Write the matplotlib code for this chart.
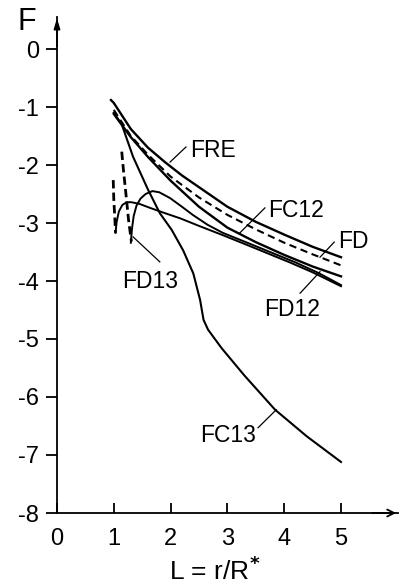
import matplotlib
matplotlib.use("Agg")
import matplotlib.pyplot as plt

plt.rcParams['font.family'] = ['Liberation Sans', 'DejaVu Sans']

# ---- data ----
x_fre = [0.95, 1.0, 1.3, 1.6, 1.9, 2.2, 2.6, 3.0, 3.5, 4.0, 4.5, 5.0]
y_fre = [-0.88, -0.93, -1.38, -1.70, -1.95, -2.18, -2.45, -2.72, -2.98, -3.20, -3.41, -3.59]

x_fd = [1.0, 1.3, 1.6, 2.0, 2.5, 3.0, 3.5, 4.0, 4.5, 5.0]
y_fd = [-1.05, -1.50, -1.82, -2.20, -2.56, -2.86, -3.11, -3.34, -3.54, -3.73]

x_fc12 = [1.0, 1.3, 1.6, 2.0, 2.5, 3.0, 3.5, 4.0, 4.5, 5.0]
y_fc12 = [-1.12, -1.52, -1.86, -2.27, -2.72, -3.08, -3.33, -3.55, -3.75, -3.92]

x_fc13 = [1.0, 1.14, 1.34, 1.6, 1.81, 2.02, 2.22, 2.40, 2.52, 2.58, 2.66, 2.90, 3.3, 3.84, 4.4, 5.0]
y_fc13 = [-1.10, -1.30, -1.86, -2.42, -2.83, -3.12, -3.47, -3.87, -4.33, -4.67, -4.84, -5.16, -5.63, -6.22, -6.68, -7.12]

# FD12 branch (solid part and dashed unstable part)
x_fd12 = [1.03, 1.05, 1.09, 1.15, 1.22, 1.3, 1.45, 1.64, 1.9, 2.17, 2.5, 2.92, 3.3, 3.7, 4.1, 4.5, 5.0]
y_fd12 = [-3.17, -2.98, -2.80, -2.69, -2.645, -2.64, -2.67, -2.74, -2.83, -2.92, -3.05, -3.21, -3.36, -3.52, -3.68, -3.85, -4.09]
x_fd12_d = [0.99, 1.0, 1.02, 1.03]
y_fd12_d = [-2.26, -2.60, -2.95, -3.17]

# FD13 branch (solid part and dashed unstable part)
x_fd13 = [1.3, 1.32, 1.35, 1.4, 1.47, 1.56, 1.68, 1.8, 1.99, 2.2, 2.39, 2.65, 2.92, 3.4, 3.8, 4.2, 4.6, 5.0]
y_fd13 = [-3.34, -3.10, -2.88, -2.70, -2.58, -2.50, -2.45, -2.47, -2.57, -2.72, -2.86, -3.03, -3.17, -3.36, -3.52, -3.68, -3.86, -4.07]
x_fd13_d = [1.14, 1.17, 1.20, 1.23, 1.26, 1.31]
y_fd13_d = [-1.77, -2.09, -2.37, -2.66, -2.95, -3.32]

y_ticks = [0, -1, -2, -3, -4, -5, -6, -7, -8]
y_tick_labels = ['0', '-1', '-2', '-3', '-4', '-5', '-6', '-7', '-8']
x_ticks = [0, 1, 2, 3, 4, 5]
x_tick_labels = ['0', '1', '2', '3', '4', '5']

# label text, text anchor (baseline), leader start (on curve), leader end
labels = [
    ('FRE',  (2.75, -1.86), (1.99, -1.95), (2.27, -1.69)),
    ('FC12', (4.21, -2.90), (3.22, -3.17), (3.66, -2.74)),
    ('FD',   (5.21, -3.43), (4.63, -3.59), (4.88, -3.33)),
    ('FD12', (4.14, -4.60), (4.63, -3.84), (4.28, -4.21)),
    ('FD13', (1.64, -4.12), (1.34, -3.24), (1.81, -3.67)),
    ('FC13', (3.01, -6.78), (3.86, -6.22), (3.54, -6.53)),
]

# ---- figure ----
fig = plt.figure(figsize=(4.01, 5.88), dpi=100)
ax = fig.add_axes([57 / 401, 75 / 588, 340.8 / 401, 495.9 / 588])
ax.set_xlim(0, 6.0)
ax.set_ylim(-8, 0.55)

for s in ('top', 'right'):
    ax.spines[s].set_visible(False)
for s in ('left', 'bottom'):
    ax.spines[s].set_linewidth(1.3)

k = 'black'
ax.plot(x_fre, y_fre, color=k, lw=1.7)
ax.plot(x_fd, y_fd, color=k, lw=1.5, dashes=(3.5, 2.2))
ax.plot(x_fc12, y_fc12, color=k, lw=1.7)
ax.plot(x_fc13, y_fc13, color=k, lw=1.5)
ax.plot(x_fd12, y_fd12, color=k, lw=1.4)
ax.plot(x_fd12_d, y_fd12_d, color=k, lw=2.0, dashes=(3, 1.5))
ax.plot(x_fd13, y_fd13, color=k, lw=1.4)
ax.plot(x_fd13_d, y_fd13_d, color=k, lw=2.0, dashes=(3, 1.5))

for txt, (tx, ty), (lx0, ly0), (lx1, ly1) in labels:
    ax.text(tx, ty, txt, ha='center', va='baseline', fontsize=16.5)
    ax.plot([lx0, lx1], [ly0, ly1], color=k, lw=0.9)

ax.set_yticks(y_ticks)
ax.set_yticklabels(y_tick_labels)
ax.set_xticks(x_ticks)
ax.set_xticklabels(x_tick_labels)
ax.tick_params(axis='y', direction='out', length=8, width=1.3, pad=5, labelsize=17)
ax.tick_params(axis='x', direction='in', length=7, width=1.3, pad=11, labelsize=17)

# axis arrows
ax.annotate('', xy=(0, 0.58), xytext=(0, 0.0), xycoords='data',
            arrowprops=dict(arrowstyle='-|>,head_length=0.6,head_width=0.18', color=k, lw=1.3),
            annotation_clip=False)
ax.annotate('', xy=(6.02, -8), xytext=(5.5, -8), xycoords='data',
            arrowprops=dict(arrowstyle='->,head_length=0.5,head_width=0.25', color=k, lw=1.3),
            annotation_clip=False)

ax.text(-0.53, 0.33, 'F', fontsize=22, ha='center', va='baseline', clip_on=False)
ax.text(2.78, -9.15, r'L = r/R$^{\mathbf{*}}$', fontsize=19, ha='center', va='baseline', clip_on=False)

fig.savefig('out.png', dpi=100)
